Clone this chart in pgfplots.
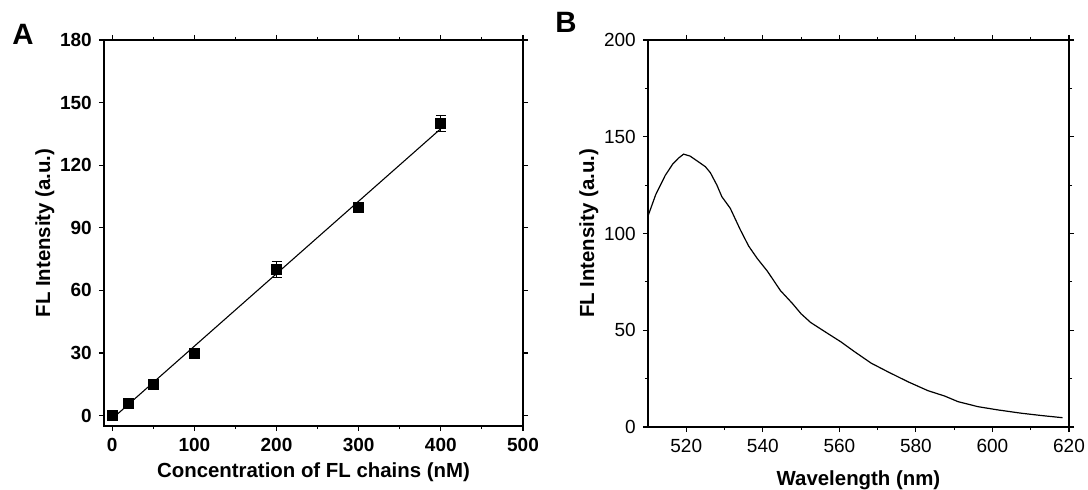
\documentclass[border=0pt]{standalone}
\usepackage{fontspec}
\setmainfont{Liberation Sans}
\usepackage{pgfplots}
\pgfplotsset{compat=1.18}
\begin{document}
\begin{tikzpicture}
\path[use as bounding box] (0pt,0pt) rectangle (544pt,245pt);
\pgfplotsset{
  myaxis/.style={
    scale only axis,
    anchor=south west,
    tick align=outside,
    major tick length=2.6pt,
    minor tick length=1.6pt,
    every tick/.style={black, line width=0.55pt},
    axis line style={black, line width=0.65pt},
    /pgf/number format/assume math mode=true,
    label style={font=\fontsize{10.2}{12}\selectfont\bfseries},
    ylabel shift=-4pt,
  }
}
% Panel A
\begin{axis}[myaxis,
  at={(52pt,32pt)}, width=209.5pt, height=193pt,
  xmin=-10, xmax=500, ymin=-5, ymax=180,
  xtick={0,100,...,500}, minor x tick num=1,
  ytick={0,30,...,180},
  tick label style={font=\fontsize{9.5}{11}\selectfont\bfseries},
  xlabel={Concentration of FL chains (nM)},
  ylabel={FL Intensity (a.u.)},
  xlabel shift=-1.5pt,
]
\addplot[black, line width=0.55pt, no marks] coordinates {(0,-1.5) (400,137.5)};
\addplot[black, only marks, mark=square*, mark size=2.5pt,
  error bars/.cd, y dir=both, y explicit,
  error bar style={line width=0.5pt}, error mark options={rotate=90, mark size=2.5pt, line width=0.5pt}]
  coordinates {
  (0,0) +- (0,0)
  (20,6) +- (0,0)
  (50,15) +- (0,0)
  (100,30) +- (0,0)
  (200,70) +- (0,4)
  (300,100) +- (0,0)
  (400,140) +- (0,4)
};
\end{axis}
% Panel B
\begin{axis}[myaxis,
  at={(324pt,31.5pt)}, width=210.5pt, height=193.5pt,
  xmin=510, xmax=620, ymin=0, ymax=200,
  xtick={520,540,...,620}, minor x tick num=1,
  ytick={0,50,...,200}, minor y tick num=1,
  tick label style={font=\fontsize{9.5}{11}\selectfont},
  xlabel={Wavelength (nm)},
  ylabel={FL Intensity (a.u.)},
  xlabel shift=2pt,
]
\addplot[black, line width=0.6pt, no marks] coordinates {
(510,109) (512,120) (514.5,130) (516.5,136) (518,139) (519.3,141)
(521,140) (523.2,137) (525,134.5) (526.3,131.4) (528,125) (529.3,119)
(531.5,113) (534.1,102) (536.3,93.5) (538.5,87.2) (541.2,80.5)
(544.6,70.5) (547.7,63.9) (550,58.5) (552.5,54) (556.9,48.4)
(560.4,44) (563.9,39) (568.3,33) (572.6,28.6) (577.9,23.4)
(583.1,18.8) (587.5,16) (591,13.1) (596.2,10.5) (601.5,8.8)
(607.6,7.1) (612.9,5.9) (618.3,4.8)
};
\end{axis}
\node[font=\fontsize{14.7}{16}\selectfont\bfseries, anchor=center] at (11.5pt,228pt) {A};
\node[font=\fontsize{14.7}{16}\selectfont\bfseries, anchor=center] at (283pt,234pt) {B};
\end{tikzpicture}
\end{document}
